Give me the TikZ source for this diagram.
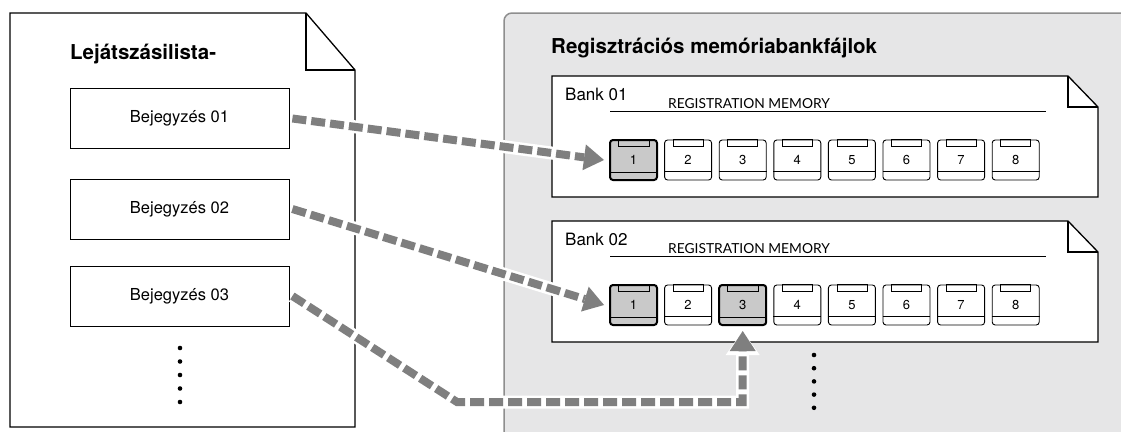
\documentclass[tikz,border=0pt]{standalone}
\usepackage{fontspec}
\setmainfont{TeX Gyre Heros}
\newfontfamily\regfont{Lato}
\usetikzlibrary{arrows.meta, calc}
\definecolor{panelgray}{HTML}{E6E6E7}
\definecolor{paneledge}{HTML}{8E8E8E}
\definecolor{linkgray}{HTML}{7F7F7F}
\definecolor{keygray}{HTML}{C9C9C9}

\tikzset{
  doctitle/.style={anchor=base west, inner sep=0pt, font=\bfseries\fontsize{20.5}{24}\selectfont},
  entry/.style={draw, line width=0.8pt, minimum width=219pt, minimum height=60pt,
                font=\fontsize{16.5}{19}\selectfont},
  regkey/.style={draw, line width=0.9pt, rounded corners=3pt, fill=white,
                 minimum width=47pt, minimum height=40pt, inner sep=0pt,
                 font=\fontsize{13}{15}\selectfont},
  selkey/.style={regkey, fill=keygray, line width=2pt},
  keyb1k1/.style={selkey}, keyb2k1/.style={selkey}, keyb2k3/.style={selkey},
  link/.style={draw=linkgray, line width=8pt, dash pattern=on 14pt off 5pt,
               -{Triangle[length=20pt, width=26pt, line width=0pt]},
               preaction={draw=white, line width=13pt, solid,
                          -{Triangle[length=24pt, width=34pt, line width=0pt]}}},
  dot/.style={circle, fill, inner sep=0pt, minimum size=4.6pt}
}

\begin{document}
\begin{tikzpicture}[x=1pt, y=-1pt]
  \useasboundingbox (0,0) rectangle (1121,431);

  % playlist page
  \draw[line width=1.3pt, fill=white] (10,13) -- (306,13) -- (355,70) -- (355,427) -- (10,427) -- cycle;
  \draw[line width=1.3pt] (306,13) -- (306,70) -- (355,70);
  \node[doctitle] (listtitle) at (70,59) {Lejátszásilista-};
  \node[entry] (e1) at (179.5,118.5) {Bejegyzés 01};
  \node[entry] (e2) at (179.5,209) {Bejegyzés 02};
  \node[entry] (e3) at (179.5,296) {Bejegyzés 03};
  \foreach \i in {0,...,4}
    \node[dot] at (180,348+13.5*\i) {};

  % bank files panel
  \draw[draw=paneledge, fill=panelgray, line width=1.5pt, rounded corners=8pt]
    (504,13) rectangle (1140,450);
  \node[doctitle] (banktitle) at (551,53) {Regisztrációs memóriabankfájlok};

  \foreach \b/\y in {1/0, 2/145}{
    \draw[line width=1.3pt, fill=white] (552,76+\y) -- (1068,76+\y) -- (1098,107+\y)
      -- (1098,197+\y) -- (552,197+\y) -- cycle;
    \draw[line width=1.3pt] (1068,76+\y) -- (1068,107+\y) -- (1098,107+\y);
    \node[anchor=base west, inner sep=0pt, font=\fontsize{17}{20}\selectfont]
      (bank\b) at (565,100+\y) {Bank 0\b};
    \node[anchor=base west, inner sep=0pt, font=\regfont\fontsize{13.8}{16}\selectfont]
      (regmem\b) at (668,108+\y) {REGISTRATION MEMORY};
    \draw[line width=0.8pt] (610,111+\y) -- (1046,111+\y);
    \foreach \k in {1,...,8}{
      \node[regkey, keyb\b k\k/.try] (b\b-\k) at ({633.5+54.6*(\k-1)},160+\y) {\k};
      \draw[line width=0.7pt] ([xshift=9pt]b\b-\k.north west)
        rectangle ([xshift=-9pt, yshift=-7pt]b\b-\k.north east);
      \draw[line width=0.7pt] ([yshift=9pt]b\b-\k.south west) -- ([yshift=9pt]b\b-\k.south east);
    }
  }
  \foreach \i in {0,...,4}
    \node[dot] at (814,355+13.2*\i) {};

  % links
  \coordinate (bend1) at (457,402);
  \coordinate (bend2) at (b2-3 |- bend1);
  \draw[link] ([xshift=3pt]e1.east) -- ([xshift=-5pt]b1-1.west);
  \draw[link] ([xshift=3pt]e2.east) -- ([xshift=-5pt]b2-1.west);
  \draw[link] ([xshift=3pt]e3.east) -- (bend1) -- (bend2) -- ([yshift=-5pt]b2-3.south);
\end{tikzpicture}
\end{document}
